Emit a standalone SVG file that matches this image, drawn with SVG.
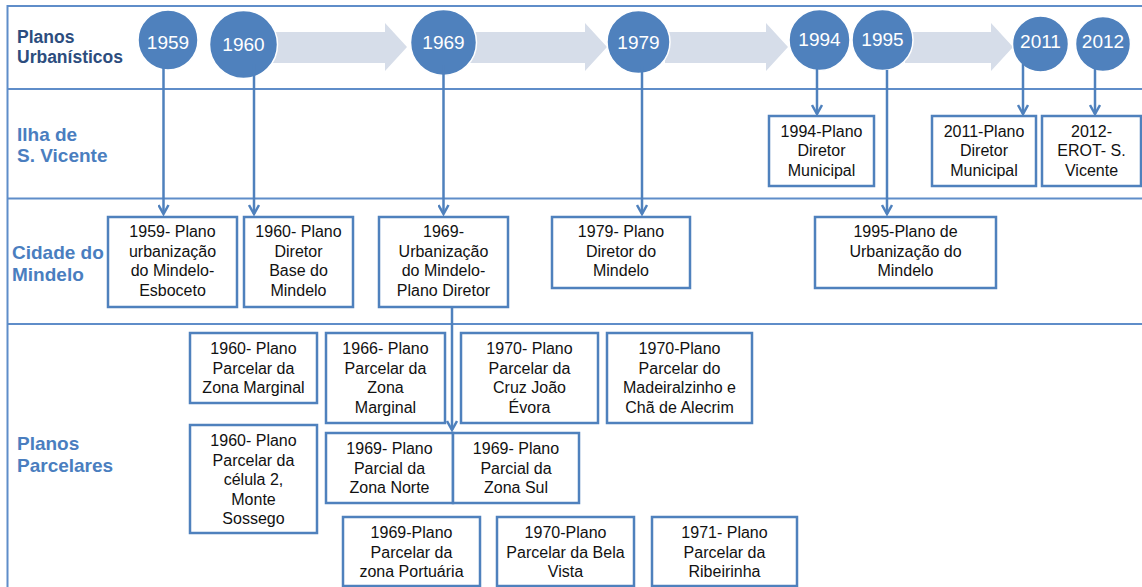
<svg xmlns="http://www.w3.org/2000/svg" width="1142" height="587" viewBox="0 0 1142 587">
<defs>
<style>
.grid{stroke:#5f8dc9;stroke-width:2;fill:none}
.band{fill:#d6dde9}
.yr circle{fill:#4f81bd;stroke:#ffffff;stroke-width:1.5}
.yr text{fill:#ffffff;font-family:"Liberation Sans",Arial,sans-serif;font-size:19px;text-anchor:middle}
.box rect{fill:#ffffff;stroke:#4f81bd;stroke-width:2.5}
.box text{fill:#111111;font-family:"Liberation Sans",Arial,sans-serif;font-size:16px;text-anchor:middle}
.lbl{font-family:"Liberation Sans",Arial,sans-serif;font-weight:bold;font-size:19px;fill:#4a7ebf}
.lbl1{font-family:"Liberation Sans",Arial,sans-serif;font-weight:bold;font-size:17.5px;fill:#2c4d7e}
.conn{stroke:#4f81bd;stroke-width:2.5;fill:none}
</style>
<marker id="arr" viewBox="0 0 12 12" refX="10" refY="6" markerWidth="12" markerHeight="12" markerUnits="userSpaceOnUse" orient="auto">
<path d="M1,1 L10,6 L1,11" fill="none" stroke="#4f81bd" stroke-width="2.5"/>
</marker>
</defs>
<rect x="0" y="0" width="1142" height="587" fill="#ffffff"/>
<g id="grid">
<line class="grid" x1="7.5" y1="6" x2="1142" y2="6"/>
<line class="grid" x1="7.5" y1="89" x2="1142" y2="89"/>
<line class="grid" x1="7.5" y1="198.5" x2="1142" y2="198.5"/>
<line class="grid" x1="7.5" y1="324" x2="1142" y2="324"/>
<line class="grid" x1="7.5" y1="5" x2="7.5" y2="587"/>
</g>
<g id="row-labels">
<text class="lbl1" x="17" y="43">Planos</text>
<text class="lbl1" x="17" y="63">Urbanísticos</text>
<text class="lbl" x="17" y="141">Ilha de</text>
<text class="lbl" x="17" y="162">S. Vicente</text>
<text class="lbl" x="12" y="259">Cidade do</text>
<text class="lbl" x="12" y="281">Mindelo</text>
<text class="lbl" x="17" y="450">Planos</text>
<text class="lbl" x="17" y="472">Parcelares</text>
</g>
<g id="timeline-arrows">
<path class="band" d="M270,32 H385 V23 L407,47 L385,71 V63 H270 Z"/>
<path class="band" d="M470,32 H585 V23 L607,47 L585,71 V63 H470 Z"/>
<path class="band" d="M665,32 H766 V23 L788,47 L766,71 V63 H665 Z"/>
<path class="band" d="M905,32 H991 V23 L1013,47 L991,71 V63 H905 Z"/>
</g>
<g id="y1959" class="yr"><circle cx="168" cy="40" r="30"/><text x="168" y="49">1959</text></g>
<g id="y1960" class="yr"><circle cx="243.5" cy="44.5" r="34"/><text x="243.5" y="51">1960</text></g>
<g id="y1969" class="yr"><circle cx="443.5" cy="42.5" r="33"/><text x="443.5" y="49">1969</text></g>
<g id="y1979" class="yr"><circle cx="638.5" cy="42" r="31.5"/><text x="638.5" y="49">1979</text></g>
<g id="y1994" class="yr"><circle cx="819.5" cy="40" r="30.5"/><text x="819.5" y="46">1994</text></g>
<g id="y1995" class="yr"><circle cx="882.5" cy="40" r="30.5"/><text x="882.5" y="46">1995</text></g>
<g id="y2011" class="yr"><circle cx="1040.5" cy="44" r="28"/><text x="1040.5" y="48">2011</text></g>
<g id="y2012" class="yr"><circle cx="1103" cy="44" r="27.5"/><text x="1103" y="48">2012</text></g>
<g id="connectors">
<line class="conn" x1="163.5" y1="68" x2="163.5" y2="214" marker-end="url(#arr)"/>
<line class="conn" x1="254" y1="64" x2="254" y2="214" marker-end="url(#arr)"/>
<line class="conn" x1="443.5" y1="65" x2="443.5" y2="214" marker-end="url(#arr)"/>
<line class="conn" x1="452" y1="307" x2="452" y2="430" marker-end="url(#arr)"/>
<line class="conn" x1="642" y1="66" x2="642" y2="214" marker-end="url(#arr)"/>
<line class="conn" x1="817" y1="66" x2="817" y2="114" marker-end="url(#arr)"/>
<line class="conn" x1="887" y1="70" x2="887" y2="214" marker-end="url(#arr)"/>
<line class="conn" x1="1023" y1="64" x2="1023" y2="114" marker-end="url(#arr)"/>
<line class="conn" x1="1095" y1="68" x2="1095" y2="114" marker-end="url(#arr)"/>
</g>
<g id="b1959" class="box"><rect x="108" y="217" width="129" height="90"/>
<text x="172.5" y="237">1959- Plano</text><text x="172.5" y="256.5">urbanização</text><text x="172.5" y="276">do Mindelo-</text><text x="172.5" y="295.5">Esboceto</text></g>
<g id="b1960" class="box"><rect x="244" y="217" width="109" height="90"/>
<text x="298.5" y="237">1960- Plano</text><text x="298.5" y="256.5">Diretor</text><text x="298.5" y="276">Base do</text><text x="298.5" y="295.5">Mindelo</text></g>
<g id="b1969" class="box"><rect x="379" y="217" width="129" height="90"/>
<text x="443.5" y="237">1969-</text><text x="443.5" y="256.5">Urbanização</text><text x="443.5" y="276">do Mindelo-</text><text x="443.5" y="295.5">Plano Diretor</text></g>
<g id="b1979" class="box"><rect x="552" y="217" width="138" height="71"/>
<text x="621" y="237">1979- Plano</text><text x="621" y="256.5">Diretor do</text><text x="621" y="276">Mindelo</text></g>
<g id="b1995" class="box"><rect x="815" y="217" width="181" height="71"/>
<text x="905.5" y="237">1995-Plano de</text><text x="905.5" y="256.5">Urbanização do</text><text x="905.5" y="276">Mindelo</text></g>
<g id="b1994" class="box"><rect x="769" y="116" width="105" height="70"/>
<text x="821.5" y="136.5">1994-Plano</text><text x="821.5" y="156">Diretor</text><text x="821.5" y="175.5">Municipal</text></g>
<g id="b2011" class="box"><rect x="932" y="116" width="104" height="70"/>
<text x="984" y="136.5">2011-Plano</text><text x="984" y="156">Diretor</text><text x="984" y="175.5">Municipal</text></g>
<g id="b2012" class="box"><rect x="1042" y="116" width="99" height="70"/>
<text x="1091.5" y="136.5">2012-</text><text x="1091.5" y="156">EROT- S.</text><text x="1091.5" y="175.5">Vicente</text></g>
<g id="p1960a" class="box"><rect x="190" y="333" width="127" height="70"/>
<text x="253.5" y="354">1960- Plano</text><text x="253.5" y="373.5">Parcelar da</text><text x="253.5" y="393">Zona Marginal</text></g>
<g id="p1966" class="box"><rect x="326" y="333" width="119" height="90"/>
<text x="385.5" y="354">1966- Plano</text><text x="385.5" y="373.5">Parcelar da</text><text x="385.5" y="393">Zona</text><text x="385.5" y="412.5">Marginal</text></g>
<g id="p1970a" class="box"><rect x="461" y="333" width="137" height="90"/>
<text x="529.5" y="354">1970- Plano</text><text x="529.5" y="373.5">Parcelar da</text><text x="529.5" y="393">Cruz João</text><text x="529.5" y="412.5">Évora</text></g>
<g id="p1970b" class="box"><rect x="607" y="333" width="145" height="90"/>
<text x="679.5" y="354">1970-Plano</text><text x="679.5" y="373.5">Parcelar do</text><text x="679.5" y="393">Madeiralzinho e</text><text x="679.5" y="412.5">Chã de Alecrim</text></g>
<g id="p1960b" class="box"><rect x="190" y="425" width="127" height="108"/>
<text x="253.5" y="446">1960- Plano</text><text x="253.5" y="465.5">Parcelar da</text><text x="253.5" y="485">célula 2,</text><text x="253.5" y="504.5">Monte</text><text x="253.5" y="524">Sossego</text></g>
<g id="p1969n" class="box"><rect x="326" y="433" width="127" height="70"/>
<text x="389.5" y="454">1969- Plano</text><text x="389.5" y="473.5">Parcial da</text><text x="389.5" y="493">Zona Norte</text></g>
<g id="p1969s" class="box"><rect x="453" y="433" width="126" height="70"/>
<text x="516" y="454">1969- Plano</text><text x="516" y="473.5">Parcial da</text><text x="516" y="493">Zona Sul</text></g>
<g id="p1969p" class="box"><rect x="343" y="517" width="137" height="69"/>
<text x="411.5" y="538">1969-Plano</text><text x="411.5" y="557.5">Parcelar da</text><text x="411.5" y="577">zona Portuária</text></g>
<g id="p1970c" class="box"><rect x="497" y="517" width="137" height="69"/>
<text x="565.5" y="538">1970-Plano</text><text x="565.5" y="557.5">Parcelar da Bela</text><text x="565.5" y="577">Vista</text></g>
<g id="p1971" class="box"><rect x="652" y="517" width="145" height="69"/>
<text x="724.5" y="538">1971- Plano</text><text x="724.5" y="557.5">Parcelar da</text><text x="724.5" y="577">Ribeirinha</text></g>
</svg>
